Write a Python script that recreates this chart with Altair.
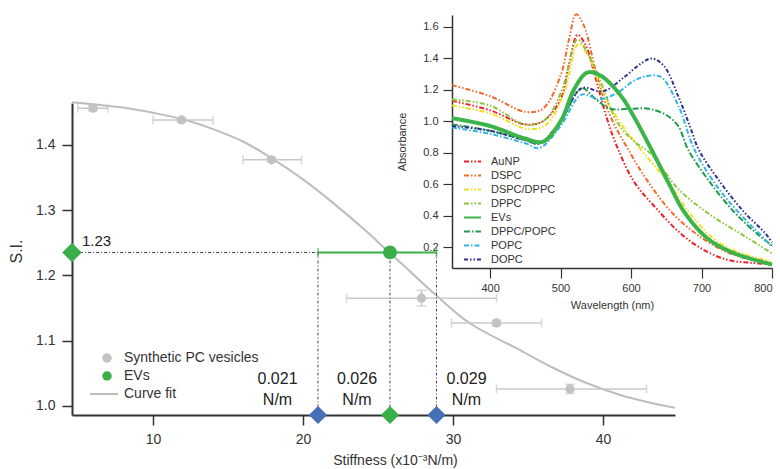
import altair as alt
import pandas as pd

# ---------------- main panel data ----------------
syn_x = [6.0, 11.9, 17.9, 27.9, 32.9, 37.8]
syn_y = [1.456, 1.438, 1.377, 1.165, 1.127, 1.026]
syn_xlo = [5.0, 10.0, 16.0, 22.9, 29.9, 32.9]
syn_xhi = [7.0, 14.0, 19.9, 32.9, 35.9, 42.9]
syn_yerr = [0.004, 0.003, 0.003, 0.012, 0.004, 0.007]

fit_x = [4.6, 6, 8, 10, 12, 14, 16, 18, 20, 22, 24, 25.8, 27, 28.8, 31.1, 34.5, 36.7, 38.9, 41.1, 43.3, 44.8]
fit_y = [1.465, 1.462, 1.457, 1.449, 1.439, 1.424, 1.405, 1.378, 1.347, 1.311, 1.272, 1.234, 1.209,
         1.171, 1.127, 1.085, 1.058, 1.035, 1.017, 1.004, 0.997]

ev_x = 25.8
ev_y = 1.235
ev_xlo = 21.0
ev_xhi = 28.9

stiff_vals = [21.0, 25.8, 28.9]
stiff_kind = ["bound", "EV", "bound"]
stiff_text = ["0.021\nN/m", "0.026\nN/m", "0.029\nN/m"]
stiff_label_x = [18.3, 23.6, 30.9]
stiff_label_y = [1.041, 1.041, 1.041]
si_text = "1.23"

X_MIN, X_MAX = 4.6, 44.8
Y_MIN, Y_MAX = 0.986, 1.464

# ---------------- inset data ----------------
series_names = ["AuNP", "DSPC", "DSPC/DPPC", "DPPC", "EVs", "DPPC/POPC", "POPC", "DOPC"]
series_colors = ["#ec2227", "#f4692b", "#f0e01c", "#8cc63f", "#3bb54a", "#1f9b4c", "#38b3e6", "#2e3192"]
series_dash = [[5, 2, 1.5, 2, 1.5, 2], [5, 2, 1.5, 2, 1.5, 2], [5, 2, 1.5, 2, 1.5, 2], [5, 2, 1.5, 2, 1.5, 2],
               [1, 0], [6, 2, 1.5, 2], [5, 2, 1.5, 2], [4, 2, 1.5, 2, 1.5, 2]]

wl_aunp = [346, 400, 450, 475, 500, 512, 524, 535, 550, 565, 580, 605, 633, 667, 700, 736, 770, 800]
ab_aunp = [1.13, 1.07, 0.98, 1.00, 1.14, 1.36, 1.55, 1.49, 1.27, 1.03, 0.84, 0.61, 0.46, 0.30, 0.19, 0.12, 0.10, 0.09]

wl_dspc = [346, 400, 450, 475, 500, 512, 522, 533, 550, 570, 596, 625, 660, 700, 740, 770, 800]
ab_dspc = [1.23, 1.16, 1.06, 1.08, 1.29, 1.52, 1.68, 1.61, 1.32, 1.04, 0.82, 0.61, 0.41, 0.26, 0.16, 0.12, 0.09]

wl_dspc_dppc = [346, 400, 455, 480, 505, 525, 540, 560, 585, 614, 653, 686, 724, 771, 800]
ab_dspc_dppc = [1.10, 1.05, 0.95, 0.98, 1.18, 1.49, 1.41, 1.18, 0.99, 0.82, 0.61, 0.40, 0.23, 0.14, 0.11]

wl_dppc = [346, 400, 450, 478, 502, 524, 540, 557, 581, 605, 629, 667, 714, 761, 800]
ab_dppc = [1.14, 1.10, 0.98, 1.01, 1.20, 1.52, 1.42, 1.25, 0.99, 0.87, 0.79, 0.57, 0.40, 0.27, 0.16]

wl_evs = [346, 400, 450, 475, 500, 520, 538, 557, 586, 604, 629, 653, 676, 710, 747, 800]
ab_evs = [1.02, 0.97, 0.89, 0.87, 1.00, 1.21, 1.31, 1.29, 1.16, 1.03, 0.82, 0.61, 0.42, 0.25, 0.16, 0.09]

wl_dppc_popc = [346, 400, 450, 470, 500, 530, 550, 570, 600, 625, 650, 667, 681, 714, 747, 780, 800]
ab_dppc_popc = [0.98, 0.94, 0.88, 0.86, 1.00, 1.21, 1.14, 1.08, 1.08, 1.08, 1.04, 0.97, 0.82, 0.60, 0.42, 0.28, 0.21]

wl_popc = [346, 400, 450, 470, 500, 530, 555, 580, 605, 625, 643, 667, 690, 723, 761, 790, 800]
ab_popc = [0.96, 0.92, 0.86, 0.83, 0.97, 1.17, 1.14, 1.18, 1.26, 1.29, 1.28, 1.10, 0.82, 0.58, 0.38, 0.25, 0.20]

wl_dopc = [346, 400, 450, 470, 500, 530, 560, 590, 615, 630, 647, 667, 685, 696, 727, 761, 790, 800]
ab_dopc = [0.97, 0.94, 0.88, 0.86, 1.00, 1.21, 1.19, 1.28, 1.37, 1.40, 1.35, 1.16, 0.95, 0.82, 0.61, 0.42, 0.29, 0.23]

# ---------------- tables ----------------
syn_df = pd.DataFrame({"x": syn_x, "y": syn_y, "xlo": syn_xlo, "xhi": syn_xhi})
syn_df["ylo"] = [v - e for v, e in zip(syn_y, syn_yerr)]
syn_df["yhi"] = [v + e for v, e in zip(syn_y, syn_yerr)]
syn_df["group"] = "Synthetic PC vesicles"

fit_df = pd.DataFrame({"x": fit_x, "y": fit_y, "group": "Curve fit"})
ev_df = pd.DataFrame({"x": [ev_x], "y": [ev_y], "xlo": [ev_xlo], "xhi": [ev_xhi], "x0": [X_MIN],
                      "group": ["EVs"]})
stiff_df = pd.DataFrame({"x": stiff_vals, "kind": stiff_kind, "ytop": ev_y, "ybot": Y_MIN,
                         "lx": stiff_label_x, "ly": stiff_label_y, "label": stiff_text})
si_df = pd.DataFrame({"x": [X_MIN], "y": [ev_y], "label": [si_text]})

rows = []
for name, wl, ab in [("AuNP", wl_aunp, ab_aunp), ("DSPC", wl_dspc, ab_dspc),
                     ("DSPC/DPPC", wl_dspc_dppc, ab_dspc_dppc), ("DPPC", wl_dppc, ab_dppc),
                     ("EVs", wl_evs, ab_evs), ("DPPC/POPC", wl_dppc_popc, ab_dppc_popc),
                     ("POPC", wl_popc, ab_popc), ("DOPC", wl_dopc, ab_dopc)]:
    for w, a in zip(wl, ab):
        rows.append({"series": name, "wl": w, "abs": a})
spec_df = pd.DataFrame(rows)

# ---------------- scales & axes ----------------
FONT = "Liberation Sans"
AX = "#333333"
MX_SCALE = alt.Scale(domain=[X_MIN, X_MAX], range=[0, 603], nice=False, zero=False)
MY_SCALE = alt.Scale(domain=[Y_MIN, Y_MAX], range=[400, 88], nice=False, zero=False)
IX_SCALE = alt.Scale(domain=[346, 800], range=[380, 700], nice=False, zero=False)
IY_SCALE = alt.Scale(domain=[0.067, 1.676], range=[253, 0], nice=False, zero=False)

X_TITLE = "Stiffness (x10\u207b\u00b3N/m)"
Y_TITLE = "S.I."

MX_AXIS = alt.Axis(orient="bottom", values=[10, 20, 30, 40], format="d", grid=False,
                   domainColor=AX, domainWidth=2, tickColor=AX, tickWidth=1.5, tickSize=10,
                   labelFontSize=14, labelColor=AX, labelPadding=7, labelFont=FONT,
                   titleFontSize=14, titleColor=AX, titleFontWeight="normal", titleFont=FONT,
                   titleX=323, titleY=45, titleAlign="center", titleBaseline="middle")
MY_AXIS = alt.Axis(orient="left", values=[1.0, 1.1, 1.2, 1.3, 1.4], format=".1f", grid=False,
                   domainColor=AX, domainWidth=2, tickColor=AX, tickWidth=1.5, tickSize=10,
                   labelFontSize=14, labelColor=AX, labelPadding=7, labelFont=FONT,
                   titleFontSize=16, titleColor=AX, titleFontWeight="normal", titleFont=FONT,
                   titleX=-56, titleY=236, titleAngle=270, titleAlign="center", titleBaseline="middle")
IX_AXIS = alt.Axis(orient="bottom", offset=-147, values=[400, 500, 600, 700, 800], format="d", grid=False,
                   domainColor=AX, domainWidth=1.5, tickColor=AX, tickWidth=1.2, tickSize=10,
                   labelFontSize=11, labelColor=AX, labelPadding=4, labelFont=FONT,
                   titleFontSize=11, titleColor=AX, titleFontWeight="normal", titleFont=FONT,
                   titleX=540, titleY=37, titleAlign="center", titleBaseline="middle")
IY_AXIS = alt.Axis(orient="left", offset=-380, values=[0.2, 0.4, 0.6, 0.8, 1.0, 1.2, 1.4, 1.6], format=".1f",
                   grid=False, domainColor=AX, domainWidth=1.5, tickColor=AX, tickWidth=1.2, tickSize=9,
                   labelFontSize=11, labelColor=AX, labelPadding=5, labelFont=FONT,
                   titleFontSize=11, titleColor=AX, titleFontWeight="normal", titleFont=FONT,
                   titleX=-50, titleY=126.5, titleAngle=270, titleAlign="center", titleBaseline="middle")


def mx(field):
    return alt.X(field, type="quantitative", scale=MX_SCALE, axis=MX_AXIS, title=X_TITLE)


def my(field):
    return alt.Y(field, type="quantitative", scale=MY_SCALE, axis=MY_AXIS, title=Y_TITLE)


def ix(field):
    return alt.X(field, type="quantitative", scale=IX_SCALE, axis=IX_AXIS, title="Wavelength (nm)")


def iy(field):
    return alt.Y(field, type="quantitative", scale=IY_SCALE, axis=IY_AXIS, title="Absorbance")


GRAY_PT = "#c2c2c2"
GRAY_BAR = "#c9c9c9"
GREEN = "#3aae47"
BLUE = "#4570b6"
DOT = "#444444"

PT_SCALE = alt.Scale(domain=["Synthetic PC vesicles", "EVs"], range=[GRAY_PT, GREEN])
PT_LEGEND = alt.Legend(orient="none", legendX=28, legendY=336, title=None, symbolType="circle",
                       symbolSize=90, labelFontSize=14, labelColor=AX, labelFont=FONT, labelOffset=10,
                       rowPadding=4, padding=0)
FIT_LEGEND = alt.Legend(orient="none", legendX=17, legendY=372, title=None, symbolType="stroke",
                        symbolSize=784, symbolStrokeWidth=2, labelFontSize=14, labelColor=AX,
                        labelFont=FONT, labelOffset=5, padding=0, clipHeight=14)

# ---------------- main layers ----------------
fit_line = alt.Chart(fit_df).mark_line(strokeWidth=2, interpolate="catmull-rom").encode(
    x=mx("x"), y=my("y"),
    stroke=alt.Stroke("group:N", scale=alt.Scale(domain=["Curve fit"], range=["#bdbdbd"]), legend=FIT_LEGEND))

syn_base = alt.Chart(syn_df)
syn_hbar = syn_base.mark_rule(color=GRAY_BAR, strokeWidth=1.5).encode(x=mx("xlo"), x2="xhi", y=my("y"))
syn_cap_lo = syn_base.mark_tick(orient="vertical", size=9, thickness=1.5, color=GRAY_BAR).encode(x=mx("xlo"), y=my("y"))
syn_cap_hi = syn_base.mark_tick(orient="vertical", size=9, thickness=1.5, color=GRAY_BAR).encode(x=mx("xhi"), y=my("y"))
syn_vbar = syn_base.mark_rule(color=GRAY_BAR, strokeWidth=1.5).encode(x=mx("x"), y=my("ylo"), y2="yhi")
syn_vcap_lo = syn_base.mark_tick(orient="horizontal", size=10, thickness=1.5, color=GRAY_BAR).encode(x=mx("x"), y=my("ylo"))
syn_vcap_hi = syn_base.mark_tick(orient="horizontal", size=10, thickness=1.5, color=GRAY_BAR).encode(x=mx("x"), y=my("yhi"))
syn_pts = syn_base.mark_point(filled=True, size=85, opacity=1).encode(
    x=mx("x"), y=my("y"), color=alt.Color("group:N", scale=PT_SCALE, legend=PT_LEGEND))

ev_base = alt.Chart(ev_df)
h_dots = ev_base.mark_rule(color=DOT, strokeWidth=1, strokeDash=[3, 2, 1, 2]).encode(x=mx("x0"), x2="x", y=my("y"))
stiff_base = alt.Chart(stiff_df)
v_dots = stiff_base.mark_rule(color=DOT, strokeWidth=1, strokeDash=[3, 2, 1, 2]).encode(x=mx("x"), y=my("ytop"), y2="ybot")
ev_bar = ev_base.mark_rule(color=GREEN, strokeWidth=2).encode(x=mx("xlo"), x2="xhi", y=my("y"))
ev_cap_lo = ev_base.mark_tick(orient="vertical", size=9, thickness=1.5, color=GREEN).encode(x=mx("xlo"), y=my("y"))
ev_cap_hi = ev_base.mark_tick(orient="vertical", size=9, thickness=1.5, color=GREEN).encode(x=mx("xhi"), y=my("y"))
ev_pt = ev_base.mark_point(filled=True, size=190, opacity=1).encode(
    x=mx("x"), y=my("y"), color=alt.Color("group:N", scale=PT_SCALE, legend=PT_LEGEND))
si_diamond = alt.Chart(si_df).mark_point(shape="diamond", filled=True, size=380, color=GREEN, opacity=1).encode(
    x=mx("x"), y=my("y"))
si_label = alt.Chart(si_df).mark_text(align="left", baseline="middle", dx=10, dy=-11, fontSize=15,
                                      color="#222222", font=FONT).encode(x=mx("x"), y=my("y"), text="label:N")
blue_d = stiff_base.transform_filter(alt.datum.kind == "bound").mark_point(
    shape="diamond", filled=True, size=330, color=BLUE, opacity=1).encode(x=mx("x"), y=my("ybot"))
green_d = stiff_base.transform_filter(alt.datum.kind == "EV").mark_point(
    shape="diamond", filled=True, size=330, color=GREEN, opacity=1).encode(x=mx("x"), y=my("ybot"))
stiff_lbl = stiff_base.mark_text(align="center", baseline="middle", lineBreak="\n", lineHeight=21,
                                 fontSize=16, color="#222222", font=FONT).encode(
    x=mx("lx"), y=my("ly"), text="label:N")

main = alt.layer(fit_line, syn_hbar, syn_cap_lo, syn_cap_hi, syn_vbar, syn_vcap_lo, syn_vcap_hi, syn_pts,
                 h_dots, v_dots, ev_bar, ev_cap_lo, ev_cap_hi, ev_pt, si_diamond, si_label,
                 blue_d, green_d, stiff_lbl)

# ---------------- inset layers ----------------
INSET_LEGEND = alt.Legend(orient="none", legendX=391, legendY=141, title=None, symbolType="stroke",
                          symbolSize=289, symbolStrokeWidth=2, labelFontSize=11, labelColor=AX,
                          labelFont=FONT, labelOffset=9, rowPadding=2, padding=0, clipHeight=11)
stroke_enc = alt.Stroke("series:N", scale=alt.Scale(domain=series_names, range=series_colors), legend=INSET_LEGEND)
dash_enc = alt.StrokeDash("series:N", scale=alt.Scale(domain=series_names, range=series_dash), legend=INSET_LEGEND)

spec_base = alt.Chart(spec_df)
others = spec_base.transform_filter(alt.datum.series != "EVs").mark_line(
    strokeWidth=2, interpolate="catmull-rom").encode(x=ix("wl"), y=iy("abs"), stroke=stroke_enc, strokeDash=dash_enc)
evs = spec_base.transform_filter(alt.datum.series == "EVs").mark_line(
    strokeWidth=4, interpolate="catmull-rom").encode(x=ix("wl"), y=iy("abs"), stroke=stroke_enc, strokeDash=dash_enc)

inset = alt.layer(others, evs)

chart = alt.layer(main, inset).resolve_scale(
    x="independent", y="independent", color="independent", stroke="independent", strokeDash="independent"
).properties(
    width=700, height=400,
    padding={"left": 72, "top": 15, "right": 8, "bottom": 54},
    autosize=alt.AutoSizeParams(type="none"),
    background="white",
).configure(font=FONT).configure_view(strokeWidth=0, stroke="transparent")

chart.save("out.html", embed_options={"renderer": "svg", "actions": False})
